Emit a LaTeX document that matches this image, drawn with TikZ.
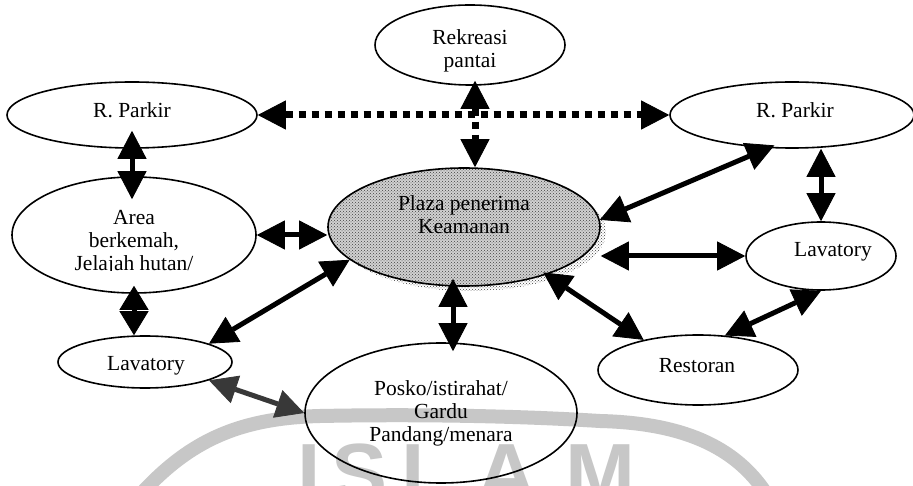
\documentclass[tikz,border=0pt]{standalone}
\usepackage{fontspec}
\setmainfont{Liberation Serif}
\newfontfamily\wmfont{Liberation Sans}
\usetikzlibrary{shapes.geometric,arrows.meta,patterns}

\begin{document}
\begin{tikzpicture}[x=1pt,y=-1pt,
  place/.style={draw=black,line width=1.6pt,ellipse,inner sep=0pt},
  lbl/.style={font=\fontsize{21.5}{23}\selectfont,align=center,inner sep=0pt},
  link/.style={line width=5pt,{Triangle[length=28pt,width=29pt,line width=0.8pt]}-{Triangle[length=28pt,width=29pt,line width=0.8pt]}},
  shortlink/.style={line width=5pt,{Triangle[length=24pt,width=29pt,line width=0.8pt]}-{Triangle[length=24pt,width=29pt,line width=0.8pt]}},
  dotlink/.style={link,line width=7pt,dash pattern=on 7pt off 6pt},
  wmtext/.style={text=black!22,font=\wmfont\bfseries\fontsize{84}{84}\selectfont,inner sep=0pt},
  stipple/.style={pattern=crosshatch dots,pattern color=black!75}
]
\useasboundingbox (0,0) rectangle (913,486);
\fill[white] (0,0) rectangle (913,486);

% faint watermark: ring and lettering
\draw[black!22,line width=14pt]
  (140,495) .. controls (190,440) and (240,418) .. (320,416)
  .. controls (420,414) and (520,416) .. (600,421)
  .. controls (680,423) and (735,445) .. (767,495);
\node[wmtext,anchor=base] (wI) at (309.5,502) {I};
\node[wmtext,anchor=base] (wS) at (360,502) {S};
\node[wmtext,anchor=base west] (wL) at (401,502) {L};
\node[wmtext,anchor=base] (wA) at (506.5,502) {A};
\node[wmtext,anchor=base] (wM) at (600,502) {M};

% stippled shadow of the central plaza
\path[stipple] (470,232) ellipse [x radius=136pt, y radius=59pt];

% places
\node[place,minimum width=190pt,minimum height=80pt] (rek) at (470,45) {};
\node[lbl] (rekt) at (470,51) {Rekreasi\\pantai};

\node[place,minimum width=250pt,minimum height=66pt] (lp) at (132,115) {};
\node[lbl] (lpt) at (132,110) {R. Parkir};

\node[place,minimum width=244pt,minimum height=66pt] (rp) at (792,115) {};
\node[lbl] (rpt) at (795,110) {R. Parkir};

\node[place,minimum width=244pt,minimum height=116pt] (ar) at (134,235) {};
\begin{scope}
  \clip (0,150) rectangle (300,271);
  \node[lbl] (art) at (134,243) {Area\\berkemah,\\Jelajah hutan/};
\end{scope}

\node[place,minimum width=272pt,minimum height=118pt,
      preaction={fill=black!18},stipple] (pl) at (464,227) {};
\node[lbl] (plt) at (464,215) {Plaza penerima\\Keamanan};

\node[place,minimum width=150pt,minimum height=68pt] (lR) at (821,256) {};
\node[lbl] (lRt) at (833,252) {Lavatory};

\node[place,minimum width=174pt,minimum height=52pt] (lL) at (145,362) {};
\node[lbl] (lLt) at (146,366) {Lavatory};

\node[place,minimum width=200pt,minimum height=70pt] (rs) at (698,370) {};
\node[lbl] (rst) at (697,366) {Restoran};

\node[place,minimum width=272pt,minimum height=140pt] (po) at (441,413) {};
\node[lbl] (pot) at (441,413) {Posko/istirahat/\\Gardu\\Pandang/menara};

% dotted links
\draw[dotlink] (lp.east) -- (rp.west);
\draw[dotlink,shorten <=-5pt] ([xshift=5pt]rek.south) -- ([xshift=11pt]pl.north);

% solid links
\draw[link,shorten <=-18pt,shorten >=-23pt] (lp.south) -- (lp.south |- ar.north);
\draw[link] (ar.east) -- (ar.east -| pl.west);
\draw[shortlink,shorten <=-8pt] (ar.south) -- (ar.south |- lL.north);
\draw[link] (lL.16) -- (pl.196);
\draw[link,black!78] (lL.-16) -- (po.west);
\draw[link,shorten <=-8pt,shorten >=-9pt] ([xshift=-11pt]pl.south) -- ([xshift=12pt]po.north);
\draw[link,shorten >=-7pt] (pl.3) -- (rp.234);
\draw[link] (lR.west -| pl.east) -- (lR.west);
\draw[link,shorten <=-4pt] (pl.-30) -- (rs.151);
\draw[link] (rs.52) -- (lR.south);
\draw[link] (lR.north |- rp.south) -- (lR.north);
\end{tikzpicture}
\end{document}
